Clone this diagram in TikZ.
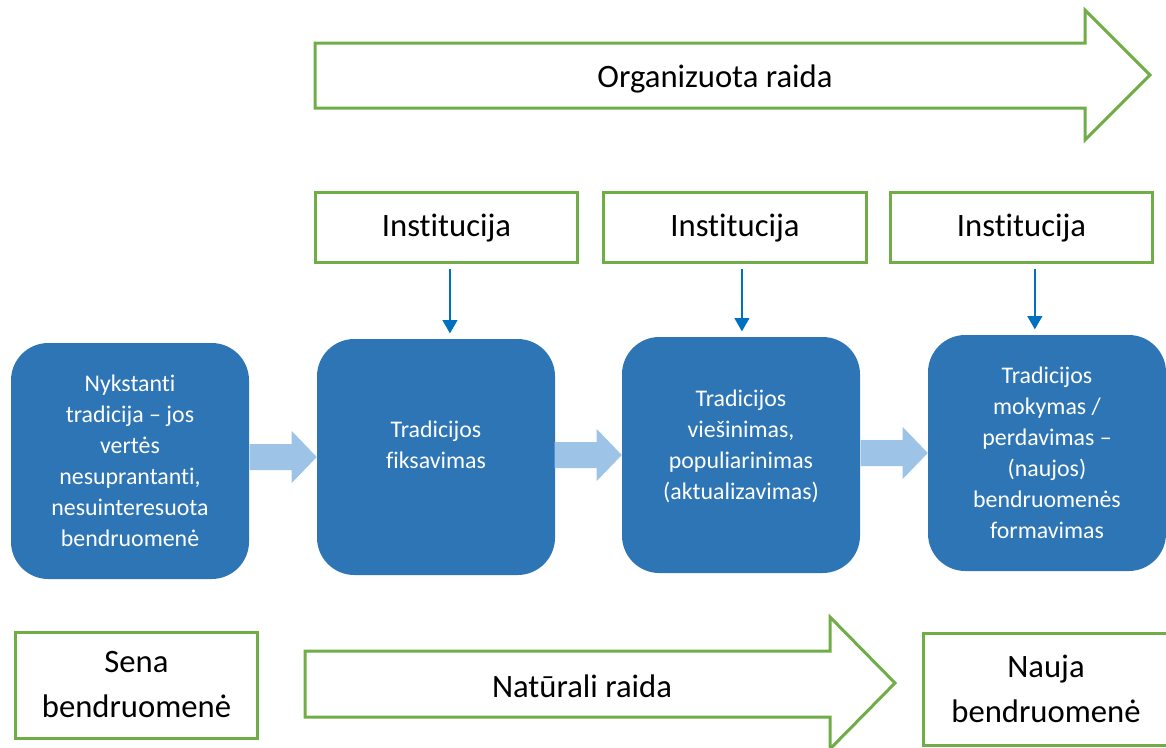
\documentclass[tikz,border=0pt]{standalone}
\usepackage{fontspec}
\setmainfont{Carlito}[Ligatures={TeX,NoCommon}]
\usetikzlibrary{arrows.meta,calc}
\definecolor{stageblue}{HTML}{2E75B6}
\definecolor{flowblue}{HTML}{9DC3E6}
\definecolor{pointblue}{HTML}{0070C0}
\definecolor{framegreen}{HTML}{70AD47}
\begin{document}
\begin{tikzpicture}[x=0.75pt,y=-0.75pt,
    greenbox/.style={draw=framegreen,line width=2.25pt,fill=white,inner sep=0pt,align=center,font=\fontsize{24.5}{33.75}\selectfont},
    stagebox/.style={fill=stageblue,rounded corners=28pt,minimum width=178.5pt,minimum height=177pt,inner sep=0pt,text=white,align=center,font=\fontsize{17.9}{23.3}\selectfont},
    greenarrow/.style={draw=framegreen,line width=2.25pt,line join=miter},
    flowarrow/.style={fill=flowblue},
    downarrow/.style={draw=pointblue,line width=1.6pt,shorten >=4pt,-{Triangle[width=11pt,length=10pt]}},
    bigtext/.style={font=\fontsize{24.5}{33.75}\selectfont}]
    \useasboundingbox (0,0) rectangle (1166,747);

    % Organized development
    \draw[greenarrow] (315,43) -- (1085,43) -- (1085,10) -- (1150,75) -- (1085,140) -- (1085,108) -- (315,108) -- cycle;
    \node[bigtext] (org) at (715,79) {Organizuota raida};

    % Institutions
    \node[greenbox,minimum width=197pt,minimum height=52.5pt] (inst1) at (446.5,227) {\strut Institucija};
    \node[greenbox,minimum width=197pt,minimum height=52.5pt] (inst2) at (735,227) {\strut Institucija};
    \node[greenbox,minimum width=197pt,minimum height=52.5pt] (inst3) at (1021.5,227) {\strut Institucija};

    % Stages of the tradition
    \node[stagebox] (nyk) at (130,461) {Nykstanti\\tradicija – jos\\vertės\\nesuprantanti,\\nesuinteresuota\\bendruomenė};
    \node[stagebox] (fiks) at (436,457) {Tradicijos\\fiksavimas\\[-5pt]\mbox{}};
    \node[stagebox] (vies) at (741,455) {Tradicijos\\viešinimas,\\populiarinimas\\(aktualizavimas)\\[-8pt]\mbox{}};
    \node[stagebox] (moky) at (1047,453) {Tradicijos\\mokymas /\\perdavimas –\\(naujos)\\bendruomenės\\formavimas};

    % Institutions act on the stages
    \draw[downarrow] ([xshift=2.6pt,yshift=-4pt]inst1.south) -- ([xshift=2.6pt]inst1.south |- fiks.north);
    \draw[downarrow] ([xshift=5.2pt,yshift=-4pt]inst2.south) -- ([xshift=5.2pt]inst2.south |- vies.north);
    \draw[downarrow] ([xshift=10pt,yshift=-4pt]inst3.south) -- ([xshift=10pt]inst3.south |- moky.north);

    % Flow between the stages
    \fill[flowarrow] (fiks.west) -- ++(-25,-26) -- ++(0,13) -- ++(-42,0) -- ++(0,26) -- ++(42,0) -- ++(0,13) -- cycle;
    \fill[flowarrow] (vies.west) -- ++(-25,-26) -- ++(0,13) -- ++(-42,0) -- ++(0,26) -- ++(42,0) -- ++(0,13) -- cycle;
    \fill[flowarrow] (moky.west) -- ++(-25,-26) -- ++(0,13) -- ++(-42,0) -- ++(0,26) -- ++(42,0) -- ++(0,13) -- cycle;

    % Natural development
    \node[greenbox,minimum width=182pt,minimum height=79.5pt] (sena) at (136.5,685) {Sena\\bendruomenė};
    \draw[greenarrow] (305,651) -- (830,651) -- (830,617) -- (895,683) -- (830,749) -- (830,717) -- (305,717) -- cycle;
    \node[bigtext] (nat) at (582,686) {Natūrali raida};
    \node[greenbox,minimum width=184.5pt,minimum height=84pt] (nauja) at (1046,689) {Nauja\\bendruomenė};
\end{tikzpicture}
\end{document}
